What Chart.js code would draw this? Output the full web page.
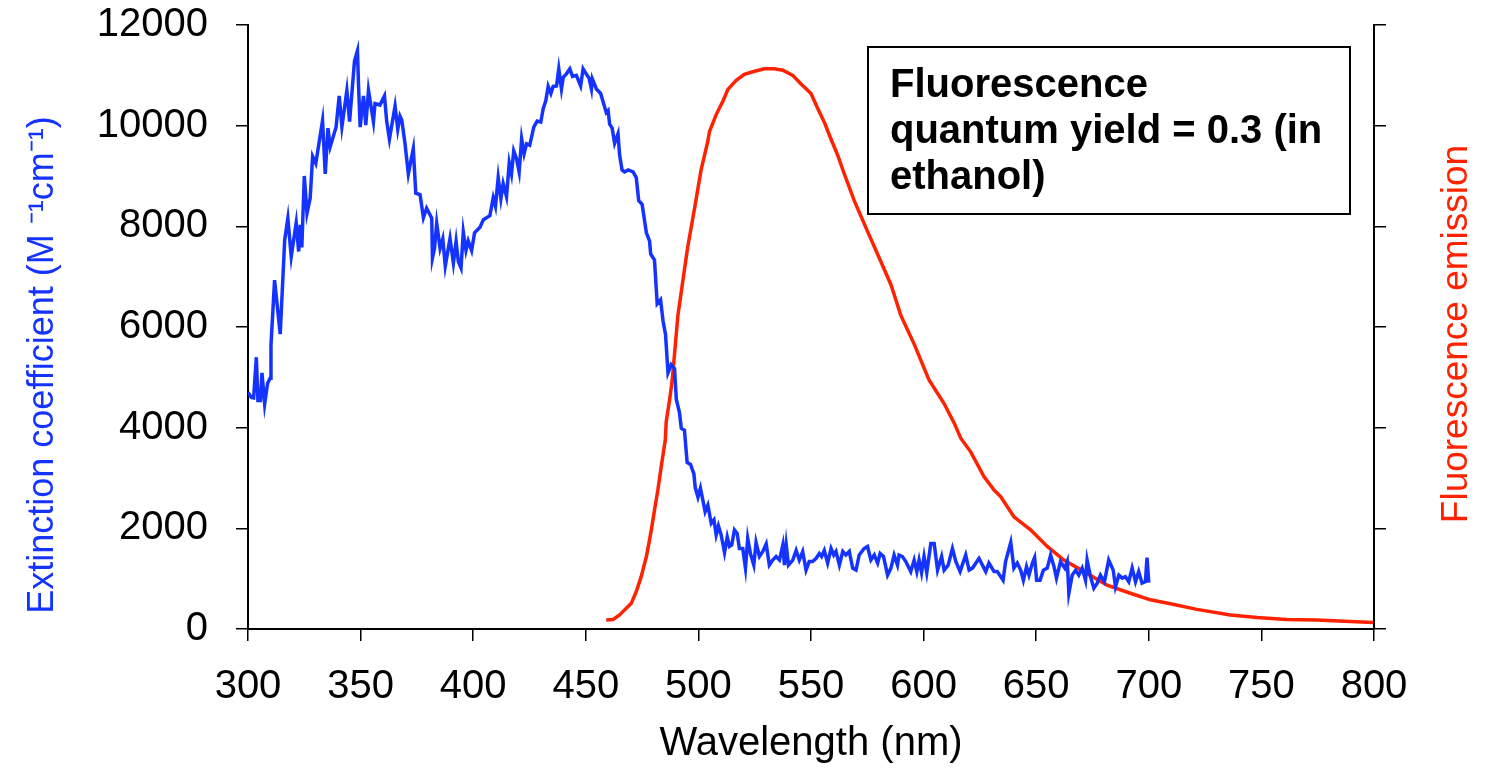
<!DOCTYPE html>
<html>
<head>
<meta charset="utf-8">
<script src="https://cdn.jsdelivr.net/npm/chart.js@4"></script>
<style>
  body { margin: 0; background: #fff; }
  #wrap { width: 1490px; height: 774px; }
</style>
</head>
<body>
<div id="wrap"><canvas id="chart" width="1490" height="774"></canvas></div>
<script>
// absorption spectrum (extinction coefficient, M-1 cm-1)
const absWl = [300, 301.5, 302.5, 303.7, 304.4, 305.5, 306.2, 307.4, 308.7, 309.8, 310.2, 311.8, 314.3, 316.3, 317.7, 319.2,
  321.4, 322.5, 323.2, 323.9, 325, 326.2, 327.6, 328.7, 330.1, 333.1, 334.3, 335.5, 336.5, 339.1, 340.5, 341.7, 343.9,
  345.1, 347.3, 348.6, 349.1, 349.8, 351.3, 352.3, 353.5, 355.7, 356.4, 358.6, 360.6, 361.6, 362.8, 365.3, 366.5, 367.5,
  368.3, 369.7, 371.2, 371.9, 373.4, 374.5, 376.4, 377.9, 379.3, 381.6, 381.9, 382.8, 383.8, 385.3, 386.5, 387.6, 389.7,
  391.2, 392.4, 393.4, 394.6, 395.6, 396.8, 397.8, 399.3, 400.6, 403, 404.5, 405.9, 407.4, 408.9, 409.9, 411.1, 412.3,
  413.3, 414.8, 416, 417, 418, 419.2, 420.4, 421.5, 422.6, 423.7, 425.1, 426.9, 428.4, 430, 431.1, 432.2, 433.3, 434.5,
  435.5, 437, 438, 439.2, 440, 441.4, 442.9, 444.1, 445.8, 447.7, 448.8, 450.3, 451.5, 452.5, 452.9, 454.7, 456.6, 458.1,
  459.1, 459.9, 460.6, 461.7, 462.8, 464.3, 465, 466.1, 467.2, 468.8, 471, 472.4, 473.5, 475, 476.9, 478.3, 478.8, 480.5,
  481.7, 483.2, 484.3, 485.4, 486.5, 487.9, 489.4, 490.2, 491.6, 492.4, 493.8, 495, 496.5, 498, 498.6, 499.8, 500.9, 503,
  504.2, 505.7, 506.9, 507.9, 508.9, 510.1, 511.6, 512.8, 513.8, 514.8, 516, 517.2, 518.2, 519.7, 520.9, 521.9, 523.1,
  524.6, 525.6, 527.1, 528.6, 530.1, 531.5, 533, 534.5, 536, 537.5, 538.2, 539, 540, 541.9, 543.4, 544.8, 546.3, 547.8,
  549.2, 550.7, 552.2, 553.7, 554.7, 555.9, 557.4, 558.9, 560.1, 561.1, 562.6, 564.1, 565.5, 567, 568.5, 570, 571.4,
  573.6, 575.1, 576.6, 578.1, 579.6, 580.7, 582.2, 584, 585.5, 586.9, 588.4, 589.1, 590.6, 592.1, 594.3, 595.8, 597, 598,
  599.1, 600.2, 601.4, 603.2, 604.7, 606.2, 608, 609.1, 610.9, 612.8, 614.3, 616.2, 618.7, 620.2, 621.7, 624.6, 627.6,
  629, 631.3, 632.7, 635.3, 636.4, 638.7, 640.1, 641.6, 643.1, 644.3, 645.7, 646.8, 648.3, 649.3, 650.2, 651.7, 653.2,
  654.9, 656.4, 657.9, 659, 660.8, 662.7, 663.8, 664.5, 666, 667.5, 668.9, 670.4, 671.9, 672.6, 674.1, 675.6, 677.1,
  678.5, 680.3, 682.2, 684.2, 685.2, 686.7, 688.2, 689.6, 691.1, 692.6, 694.1, 695.5, 697, 698.5, 699.2, 700];
const absVal = [4700, 4600, 4590, 5400, 4540, 4540, 5090, 4470, 4880, 4980, 5640, 6930, 5860, 7730, 8160, 7400,
  8070, 7500, 8030, 7580, 9000, 8260, 8560, 9390, 9250, 10100, 9040, 9950, 9580, 9970, 10590, 9980, 10700,
  10080, 11290, 11490, 10780, 9970, 10590, 10010, 10700, 10080, 10440, 10410, 10590, 10080, 9730, 10390, 9930, 10190,
  10110, 9650, 9040, 9200, 9540, 8660, 8630, 8170, 8360, 8160, 7370, 7560, 8060, 7560, 7750, 7210, 7760,
  7270, 7700, 7300, 7170, 7890, 7520, 7710, 7520, 7870, 7980, 8130, 8170, 8210, 8570, 8400, 8970, 8550,
  8850, 8590, 9260, 9040, 9500, 9350, 9080, 9740, 9440, 9640, 9610, 9970, 10090, 10070, 10340, 10490, 10780, 10640,
  10780, 10790, 11130, 10730, 10960, 11030, 11130, 10980, 11000, 10790, 11130, 11020, 10940, 10730, 10930, 10730, 10640, 10410,
  10260, 10300, 10030, 9950, 9650, 9840, 9420, 9120, 9080, 9120, 9080, 8970, 8510, 8440, 7870, 7710, 7450, 7330,
  6460, 6540, 6120, 5850, 5090, 5250, 5170, 4560, 4300, 3990, 3950, 3310, 3270, 3080, 2810, 2620, 2800, 2330,
  2460, 2100, 2170, 1870, 2050, 1870, 1520, 1830, 1640, 1670, 1970, 1900, 1600, 1600, 1210, 1800, 1500,
  1270, 1720, 1440, 1540, 1690, 1270, 1370, 1440, 1370, 1670, 1270, 1670, 1270, 1370, 1560, 1370, 1540, 1170,
  1340, 1340, 1400, 1500, 1440, 1560, 1310, 1600, 1470, 1540, 1270, 1540, 1470, 1540, 1210, 1170, 1470,
  1600, 1640, 1370, 1470, 1310, 1500, 1440, 1070, 1210, 1470, 1270, 1470, 1440, 1340, 1140, 1370, 1140, 1370,
  1120, 1440, 1120, 1700, 1700, 1170, 1440, 1170, 1270, 1600, 1340, 1140, 1470, 1170, 1210, 1400, 1140,
  1310, 1140, 1140, 970, 1340, 1720, 1210, 1310, 1170, 970, 1240, 1070, 1310, 1420, 970, 970, 1170,
  1210, 1470, 1240, 1010, 1340, 1210, 1340, 710, 1070, 1170, 1070, 1210, 970, 1370, 1040, 810, 910,
  1070, 940, 1370, 1170, 840, 1070, 1010, 1040, 940, 1210, 940, 1140, 910, 940, 1420, 920];

// fluorescence emission (arbitrary units, plotted on the right axis)
const emWl = [459.1, 462.1, 465, 467.2, 470.2, 472.4, 474.6, 476.9, 478.3, 479.1, 480.5, 482, 483.5, 485.3, 485.7,
  487.2, 488.4, 490.9, 493.1, 495.3, 498.3, 501.2, 504.2, 504.9, 507.9, 510.9, 513.1, 516.8, 520.4, 524.9, 529.3,
  533.7, 537.5, 541.9, 545.6, 550, 553, 555.9, 558.9, 561.8, 564.8, 569.2, 575.1, 581, 585.5, 589.9, 596, 602.4,
  609.1, 613.6, 616.5, 620.9, 626.8, 631.3, 634.2, 640.1, 647.5, 654.9, 662.3, 671.2, 681.5, 691.8, 700.7, 709.6,
  721.4, 736.2, 748, 761.3, 774.6, 789.4, 799.7];
const emVal = [180, 190, 280, 380, 510, 740, 1040, 1440, 1770, 1970, 2360, 2760, 3230, 3760, 4120,
  4550, 4950, 6230, 6920, 7600, 8360, 9120, 9690, 9880, 10220, 10490, 10720, 10900, 11020, 11080, 11130,
  11130, 11100, 11000, 10830, 10640, 10340, 10070, 9730, 9420, 9040, 8510, 7900, 7300, 6840, 6230, 5640, 4950,
  4480, 4090, 3790, 3520, 3030, 2760, 2630, 2230, 1970, 1640, 1370, 1140, 870, 710, 580, 500,
  390, 280, 230, 190, 180, 150, 130];

const xTicks = { min: 300, max: 800, step: 50 };
const yTicks = { min: 0, max: 12000, step: 2000 };

const blue = '#1433ff';
const red = '#ff2200';
const fontFamily = '"Liberation Sans", Arial, sans-serif';

const absData = absWl.map((w, i) => ({ x: w, y: absVal[i] }));
const emData = emWl.map((w, i) => ({ x: w, y: emVal[i] }));

const boxLines = ['Fluorescence', 'quantum yield = 0.3 (in', 'ethanol)'];
const leftTitle = 'Extinction coefficient (M \u207B\u00B9cm\u207B\u00B9)';
const rightTitle = 'Fluorescence emission';

// note box + both y axis titles (both read bottom to top)
const extras = {
  id: 'extras',
  afterDraw(chart) {
    const ctx = chart.ctx;
    const a = chart.chartArea;
    ctx.save();
    const x0 = a.left + 620, y0 = a.top + 22;
    ctx.fillStyle = '#fff';
    ctx.fillRect(x0, y0, 482, 167);
    ctx.strokeStyle = '#000';
    ctx.lineWidth = 2;
    ctx.strokeRect(x0, y0, 482, 167);
    ctx.fillStyle = '#000';
    ctx.font = 'bold 40px ' + fontFamily;
    ctx.textBaseline = 'alphabetic';
    ctx.textAlign = 'left';
    boxLines.forEach((t, i) => ctx.fillText(t, x0 + 22, y0 + 50 + i * 46));

    ctx.textAlign = 'center';
    ctx.textBaseline = 'middle';
    ctx.font = '36px ' + fontFamily;
    ctx.fillStyle = blue;
    ctx.translate(43, 365);
    ctx.rotate(-Math.PI / 2);
    ctx.fillText(leftTitle, 0, 0);
    ctx.setTransform(1, 0, 0, 1, 0, 0);
    ctx.font = '37px ' + fontFamily;
    ctx.fillStyle = red;
    ctx.translate(1457, 334);
    ctx.rotate(-Math.PI / 2);
    ctx.fillText(rightTitle, 0, 0);
    ctx.restore();
  }
};

const axisGrid = { drawOnChartArea: false, drawTicks: true, tickLength: 12, color: '#000', lineWidth: 1.5 };
const axisBorder = { display: true, color: '#000', width: 2 };
const plain = v => String(v);

new Chart(document.getElementById('chart'), {
  type: 'line',
  data: {
    datasets: [
      { label: 'Extinction coefficient', data: absData, yAxisID: 'y', borderColor: blue, borderWidth: 3.5, pointRadius: 0, tension: 0 },
      { label: 'Fluorescence emission', data: emData, yAxisID: 'y2', borderColor: red, borderWidth: 3.5, pointRadius: 0, tension: 0 }
    ]
  },
  options: {
    responsive: false,
    animation: false,
    layout: { padding: { top: 0, left: 0, right: 0, bottom: 0 } },
    plugins: { legend: { display: false }, tooltip: { enabled: false } },
    scales: {
      x: {
        type: 'linear', min: xTicks.min, max: xTicks.max,
        ticks: { stepSize: xTicks.step, color: '#000', font: { family: fontFamily, size: 40 }, padding: 22, maxRotation: 0, callback: plain },
        grid: axisGrid, border: axisBorder,
        title: { display: true, text: 'Wavelength (nm)', color: '#000', font: { family: fontFamily, size: 40 }, padding: { top: 0, bottom: 6 } },
        afterFit(s) { s.height = 145; }
      },
      y: {
        position: 'left', min: yTicks.min, max: yTicks.max,
        ticks: { stepSize: yTicks.step, color: '#000', font: { family: fontFamily, size: 40 }, padding: 28, callback: plain },
        grid: axisGrid, border: axisBorder,
        afterFit(s) { s.width = 248; s.paddingTop = 25; s.paddingBottom = 0; }
      },
      y2: {
        position: 'right', min: yTicks.min, max: yTicks.max,
        ticks: { stepSize: yTicks.step, display: false },
        grid: axisGrid, border: axisBorder,
        afterFit(s) { s.width = 116; s.paddingTop = 25; s.paddingBottom = 0; }
      }
    }
  },
  plugins: [extras]
});
</script>
</body>
</html>
